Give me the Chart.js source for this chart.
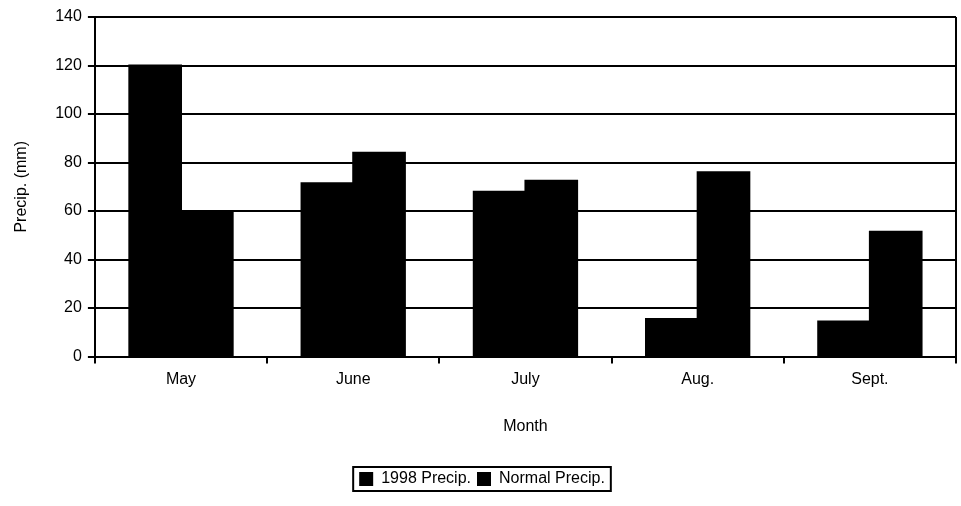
<!DOCTYPE html>
<html>
<head>
<meta charset="utf-8">
<script src="https://cdn.jsdelivr.net/npm/chart.js@4/dist/chart.umd.min.js"></script>
<style>
  body { margin: 0; background: #fff; }
  #wrap { width: 961px; height: 506px; }
</style>
</head>
<body>
<div id="wrap"><canvas id="myChart" width="961" height="506"></canvas></div>
<script>
// chart data
const months = ['May', 'June', 'July', 'Aug.', 'Sept.'];
const precip1998 = [120, 71.5, 68, 15.5, 14.5];
const precipNormal = [60, 84, 72.5, 76, 51.5];
const yTicks = [0, 20, 40, 60, 80, 100, 120, 140];

const FONT = "'Liberation Sans', 'DejaVu Sans', sans-serif";

// right edge of plot + box around legend
const framePlugin = {
  id: 'frame',
  afterDraw(chart) {
    const ctx = chart.ctx;
    const a = chart.chartArea;
    ctx.save();
    ctx.strokeStyle = '#000';
    ctx.lineWidth = 2;
    ctx.beginPath();
    ctx.moveTo(a.right, a.top);
    ctx.lineTo(a.right, a.bottom);
    ctx.stroke();

    const boxes = chart.legend.legendHitBoxes;
    if (boxes && boxes.length) {
      let l = Infinity, r = -Infinity, t = Infinity, b = -Infinity;
      boxes.forEach(h => {
        l = Math.min(l, h.left); r = Math.max(r, h.left + h.width);
        t = Math.min(t, h.top); b = Math.max(b, h.top + h.height);
      });
      ctx.strokeRect(l - 6, t - 4, (r - l) + 12, (b - t) + 8);
    }
    ctx.restore();
  }
};

new Chart(document.getElementById('myChart'), {
  type: 'bar',
  data: {
    labels: months,
    datasets: [{
      label: '1998 Precip.',
      data: precip1998,
      backgroundColor: '#000',
      borderWidth: 0,
      inflateAmount: 1,
      categoryPercentage: 0.6,
      barPercentage: 1.0
    }, {
      label: 'Normal Precip.',
      data: precipNormal,
      backgroundColor: '#000',
      borderWidth: 0,
      inflateAmount: 1,
      categoryPercentage: 0.6,
      barPercentage: 1.0
    }]
  },
  options: {
    responsive: false,
    animation: false,
    layout: { padding: { left: 8, right: 5, top: 17, bottom: 9 } },
    scales: {
      x: {
        grid: {
          offset: true,
          drawOnChartArea: false,
          drawTicks: true,
          tickLength: 7,
          color: '#000',
          lineWidth: 2
        },
        border: { color: '#000', width: 2 },
        ticks: { color: '#000', font: { family: FONT, size: 16 }, padding: 6 },
        title: {
          display: true,
          text: 'Month',
          color: '#000',
          font: { family: FONT, size: 16 },
          padding: { top: 22, bottom: 29 }
        }
      },
      y: {
        min: 0,
        max: 140,
        afterBuildTicks: scale => { scale.ticks = yTicks.map(v => ({ value: v })); },
        grid: { color: '#000', lineWidth: 2, tickLength: 7 },
        border: { color: '#000', width: 2 },
        ticks: { color: '#000', font: { family: FONT, size: 16 }, padding: 6 },
        title: {
          display: true,
          text: 'Precip. (mm)',
          color: '#000',
          font: { family: FONT, size: 16 },
          padding: { bottom: 18 }
        }
      }
    },
    plugins: {
      legend: {
        position: 'bottom',
        labels: {
          color: '#000',
          font: { family: FONT, size: 16 },
          boxWidth: 14,
          boxHeight: 14,
          padding: 6
        }
      },
      tooltip: { enabled: false }
    }
  },
  plugins: [framePlugin]
});
</script>
</body>
</html>
